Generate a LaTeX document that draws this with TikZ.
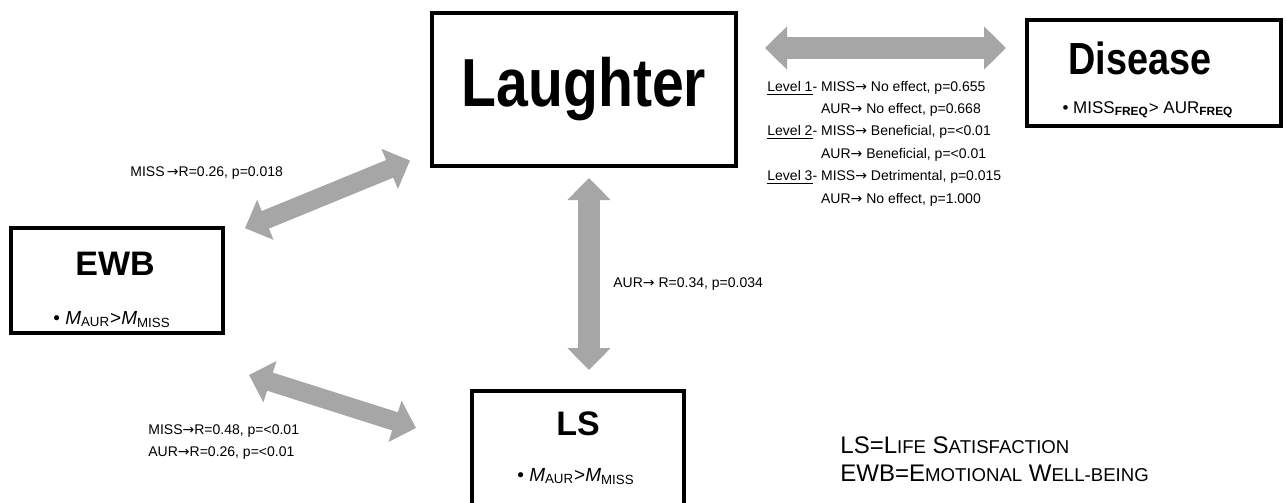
\documentclass[tikz,border=0pt]{standalone}
\usepackage{fontspec}
\setmainfont{Liberation Sans}
\newfontfamily\narrowfont{Liberation Sans}[FakeStretch=0.84]
\newfontfamily\arrowfont{DejaVu Sans}
\usetikzlibrary{arrows.meta}
\definecolor{arrowgray}{RGB}{166,166,166}
\newcommand\smc[1]{{\fontsize{9.3pt}{14pt}\selectfont #1}}
\newcommand\ra{{\arrowfont →}}
\tikzstyle{effectbox} = [rectangle, draw=black, line width=2pt, inner sep=0pt]
\tikzstyle{boxtitle} = [inner sep=0pt, anchor=base, font=\bfseries\fontsize{17pt}{20pt}\selectfont]
\tikzstyle{boxnote} = [inner sep=0pt, anchor=base, font=\fontsize{9.5pt}{11pt}\selectfont]
\tikzstyle{stat} = [inner sep=0pt, anchor=base west, font=\fontsize{7pt}{11pt}\selectfont]
\tikzstyle{fatarrow} = [line width=11pt, draw=arrowgray, <->, >={Triangle[length=11pt, width=21pt]}]

\begin{document}
\begin{tikzpicture}[x=0.5pt, y=-0.5pt]

    \useasboundingbox (0,0) rectangle (1286,503);
    \clip (0,0) rectangle (1286,503);

    \node (laughter) [effectbox, minimum width=152pt, minimum height=76.5pt, font=\narrowfont\bfseries\fontsize{34pt}{40pt}\selectfont] at (584,89.5) {Laughter};
    \node (disease)  [effectbox, minimum width=127pt, minimum height=53pt]   at (1154,73)   {};
    \node (ewb)      [effectbox, minimum width=106pt, minimum height=52.5pt] at (117,280.5) {};
    \node (ls)       [effectbox, minimum width=106pt, minimum height=70pt]   at (578,461)   {};

    \node (diseasetitle) [boxtitle, font=\narrowfont\bfseries\fontsize{22.5pt}{26pt}\selectfont] at (1140,75) {Disease};
    \node (diseasenote)  [boxnote, font=\fontsize{8.5pt}{10pt}\selectfont] at (1148,113) {\textbullet\ MISS\textsubscript{\textbf{FREQ}}> AUR\textsubscript{\textbf{FREQ}}};
    \node (ewbtitle)     [boxtitle] at (115,275) {EWB};
    \node (ewbnote)      [boxnote]  at (112,324) {\textbullet\ \textit{M}\textsubscript{AUR}>\textit{M}\textsubscript{MISS}};
    \node (lstitle)      [boxtitle] at (578,435) {LS};
    \node (lsnote)       [boxnote]  at (576,481) {\textbullet\ \textit{M}\textsubscript{AUR}>\textit{M}\textsubscript{MISS}};

    \draw [fatarrow, shorten <=13.5pt, shorten >=9.5pt] ([yshift=20.75pt]laughter.east) -- ([yshift=12.5pt]disease.west);
    \draw [fatarrow, shorten <=5pt, shorten >=9.5pt]    ([xshift=2.5pt]laughter.south)  -- ([xshift=5.5pt]ls.north);
    \draw [fatarrow, line width=9.5pt, shorten <=10.8pt, shorten >=10.8pt] (ewb) -- (laughter);
    \draw [fatarrow, line width=9.5pt] ([shift={(24,40)}]ewb.south east) -- ([shift={(-54,39)}]ls.north west);

    \node (missewb) [stat] at (130,176) {MISS\,\ra R=0.26, p=0.018};
    \node (aurls)   [stat] at (613,287) {AUR\ra\ R=0.34, p=0.034};
    \node (ewbls)   [stat] at (148,434) {\begin{tabular}[t]{@{}l@{}}MISS\ra R=0.48, p=<0.01\\AUR\ra R=0.26, p=<0.01\end{tabular}};
    \node (levels)  [stat, font=\fontsize{7pt}{11.2pt}\selectfont] at (767,91) {\begin{tabular}[t]{@{}l@{\ }l@{}}
        \underline{Level 1}- & MISS\ra\ No effect, p=0.655\\
                             & AUR\ra\ No effect, p=0.668\\
        \underline{Level 2}- & MISS\ra\ Beneficial, p=<0.01\\
                             & AUR\ra\ Beneficial, p=<0.01\\
        \underline{Level 3}- & MISS\ra\ Detrimental, p=0.015\\
                             & AUR\ra\ No effect, p=1.000
    \end{tabular}};

    \node (legend) [stat, font=\fontsize{12pt}{14pt}\selectfont] at (840,453) {\begin{tabular}[t]{@{}l@{}}LS=L\smc{IFE} S\smc{ATISFACTION}\\EWB=E\smc{MOTIONAL} W\smc{ELL-BEING}\end{tabular}};

\end{tikzpicture}
\end{document}
